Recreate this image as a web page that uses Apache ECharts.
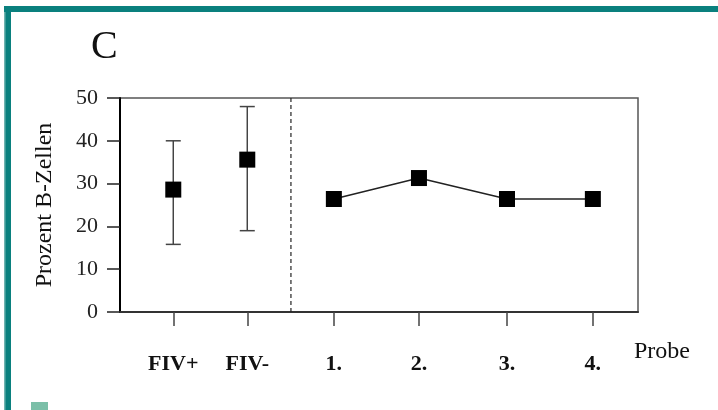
<!DOCTYPE html>
<html>
<head>
<meta charset="utf-8">
<script src="https://cdn.jsdelivr.net/npm/echarts@6/dist/echarts.min.js"></script>
<style>
html,body{margin:0;padding:0;background:#fff;}
#chart{width:718px;height:410px;}
</style>
</head>
<body>
<div id="chart"></div>
<script>
// ---- data ----
const categories = ['FIV+', 'FIV-', '1.', '2.', '3.', '4.'];
const categoryX = [0.72, 1.72, 2.89, 4.04, 5.23, 6.39];   // x values on the value axis
const dividerX = 2.31;
const groupMeans = [28.6, 35.6];
const groupUpper = [40, 48];
const groupLower = [15.8, 19];
const probeValues = [26.4, 31.3, 26.4, 26.4];
const yTicks = [0, 10, 20, 30, 40, 50];

const serif = '"Liberation Serif", "DejaVu Serif", serif';
const chart = echarts.init(document.getElementById('chart'));

const groupData = groupMeans.map((v, i) => [categoryX[i], v]);
const errData = groupMeans.map((v, i) => [categoryX[i], groupLower[i], groupUpper[i]]);
const probeData = probeValues.map((v, i) => [categoryX[i + 2], v]);

chart.setOption({
  animation: false,
  backgroundColor: '#ffffff',
  grid: {
    left: 120, top: 98, right: 80, bottom: 98,
    show: true, borderColor: '#555', borderWidth: 1.5, backgroundColor: 'transparent'
  },
  xAxis: {
    type: 'value', min: 0, max: 7,
    splitLine: { show: false },
    axisLine: { show: true, onZero: false, lineStyle: { color: '#333', width: 2 } },
    axisTick: { show: true, customValues: categoryX, length: 14, lineStyle: { color: '#444', width: 1.5 } },
    axisLabel: {
      customValues: categoryX, margin: 41,
      formatter: (v) => { const i = categoryX.indexOf(v); return i >= 0 ? categories[i] : ''; },
      fontFamily: serif, fontSize: 22, fontWeight: 'bold', color: '#111'
    }
  },
  yAxis: {
    type: 'value', min: 0, max: 50, interval: 10,
    splitLine: { show: false },
    axisLine: { show: true, lineStyle: { color: '#000', width: 2 } },
    axisTick: { show: true, length: 13, lineStyle: { color: '#222', width: 1.5 } },
    axisLabel: {
      margin: 22, fontFamily: serif, fontSize: 22, color: '#222',
      formatter: (v) => yTicks.includes(v) ? String(v) : ''
    },
    name: 'Prozent B-Zellen', nameLocation: 'middle', nameGap: 63,
    nameTextStyle: { fontFamily: serif, fontSize: 24, color: '#111' }
  },
  series: [
    {
      type: 'line', data: [[dividerX, 0], [dividerX, 50]],
      symbol: 'none', silent: true,
      lineStyle: { color: '#222', width: 1.2, type: [4, 3] }, z: 1
    },
    {
      type: 'custom', data: errData, z: 2,
      renderItem: (params, api) => {
        const x = api.value(0);
        const lo = api.coord([x, api.value(1)]);
        const hi = api.coord([x, api.value(2)]);
        const hw = 7.5;
        const st = { stroke: '#444', lineWidth: 1.5 };
        return {
          type: 'group', children: [
            { type: 'line', shape: { x1: lo[0], y1: lo[1], x2: hi[0], y2: hi[1] }, style: st },
            { type: 'line', shape: { x1: lo[0] - hw, y1: lo[1], x2: lo[0] + hw, y2: lo[1] }, style: st },
            { type: 'line', shape: { x1: hi[0] - hw, y1: hi[1], x2: hi[0] + hw, y2: hi[1] }, style: st }
          ]
        };
      }
    },
    {
      type: 'scatter', data: groupData, symbol: 'rect', symbolSize: 16,
      itemStyle: { color: '#000', opacity: 1 }, z: 3
    },
    {
      type: 'line', data: probeData, symbol: 'rect', symbolSize: 16,
      itemStyle: { color: '#000', opacity: 1 }, lineStyle: { color: '#222', width: 1.5 }, z: 3
    }
  ],
  graphic: [
    { type: 'rect', shape: { x: 4, y: 6, width: 714, height: 6 }, style: { fill: '#0a807e' } },
    { type: 'rect', shape: { x: 4, y: 6, width: 7, height: 404 }, style: { fill: '#0a807e' } },
    { type: 'rect', shape: { x: 4, y: 12, width: 1.5, height: 398 }, style: { fill: '#6fb3b0' } },
    { type: 'rect', shape: { x: 31, y: 402, width: 17, height: 8 }, style: { fill: '#7bbfa8' } },
    { type: 'text', left: 91, top: 27, style: { text: 'C', font: '40px ' + serif, fill: '#111' } },
    { type: 'text', left: 634, top: 340, style: { text: 'Probe', font: '24px ' + serif, fill: '#111' } }
  ]
});
</script>
</body>
</html>
